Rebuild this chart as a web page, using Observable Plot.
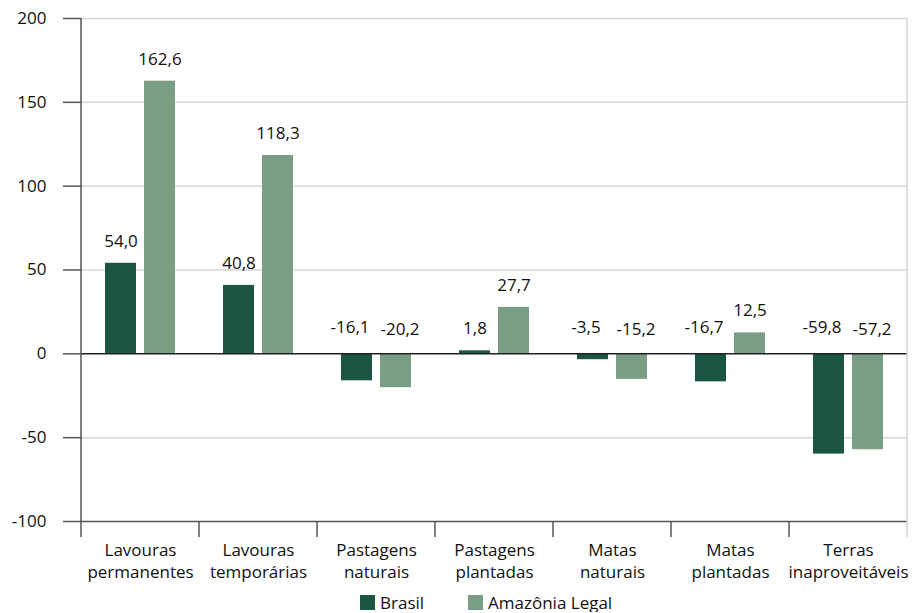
<!DOCTYPE html>
<html>
<head>
<meta charset="utf-8">
<script src="https://cdn.jsdelivr.net/npm/d3@7"></script>
<script src="https://cdn.jsdelivr.net/npm/@observablehq/plot@0.6"></script>
<style>
  body { margin: 0; background: white; font-family: "Open Sans", sans-serif; }
  #legend { display: flex; justify-content: flex-start; align-items: center; padding-left: 360px; height: 20px; font-size: 17px; color: #111; }
  .item { display: flex; align-items: center; }
  .sw { width: 15px; height: 15px; margin-right: 5px; }
</style>
</head>
<body>
<div id="chart"></div>
<div id="legend"></div>
<script>
const categories = ["Lavouras\npermanentes", "Lavouras\ntemporárias", "Pastagens\nnaturais", "Pastagens\nplantadas", "Matas\nnaturais", "Matas\nplantadas", "Terras\ninaproveitáveis"];
const series = ["Brasil", "Amazônia Legal"];
const brasil = [54.0, 40.8, -16.1, 1.8, -3.5, -16.7, -59.8];
const amazonia = [162.6, 118.3, -20.2, 27.7, -15.2, 12.5, -57.2];
const yTicks = [-100, -50, 0, 50, 100, 150, 200];
const gridTicks = [-50, 50, 100, 150, 200];
const colors = ["#1a5640", "#7a9e83"];

const data = categories.flatMap((c, i) => [
  {cat: c, s: series[0], v: brasil[i]},
  {cat: c, s: series[1], v: amazonia[i]}
]);
const fmt = v => v.toFixed(1).replace(".", ",");

const W = 916, H = 592, ML = 78, MR = 7, MT = 18, MB = H - 521;
const labelStyle = {fx: "cat", x: "s", text: d => fmt(d.v), fill: "#111", fontSize: 17};
const plot = Plot.plot({
  width: W, height: H,
  marginLeft: ML, marginRight: MR, marginTop: MT, marginBottom: MB,
  style: {fontFamily: "'Open Sans', sans-serif", fontSize: "17px", color: "#111", background: "white", overflow: "visible"},
  fx: {domain: categories, padding: 0, label: null},
  x: {domain: series, paddingInner: 0.2, paddingOuter: 0.5875, axis: null},
  y: {domain: [-100, 200], label: null},
  color: {domain: series, range: colors},
  marks: [
    Plot.ruleY(gridTicks, {stroke: "#d6d6d6", strokeWidth: 1.5}),
    Plot.axisY({ticks: yTicks, tickSize: 18, tickPadding: 17, stroke: "#555", strokeWidth: 1.5, tickFormat: d => String(d), label: null, fill: "#111"}),
    Plot.axisFx({anchor: "bottom", tickSize: 0, tickPadding: 19, lineHeight: 1.3, label: null, fill: "#111"}),
    Plot.barY(data, {fx: "cat", x: "s", y: "v", fill: "s"}),
    Plot.ruleY([0], {stroke: "#222", strokeWidth: 1.5}),
    Plot.ruleY([-100], {stroke: "#555", strokeWidth: 1.5}),
    Plot.text(data.filter(d => d.v >= 0), {...labelStyle, y: "v", dy: -22}),
    Plot.text(data.filter(d => d.v < 0 && d.s === series[0]), {...labelStyle, y: () => 0, dy: -26, dx: -7}),
    Plot.text(data.filter(d => d.v < 0 && d.s === series[1]), {...labelStyle, y: () => 0, dy: -24, dx: 4})
  ]
});
document.getElementById("chart").appendChild(plot);

// axis frame lines and category boundary ticks, positioned through Plot's scales
const fx = plot.scale("fx");
const ys = plot.scale("y");
const svg = d3.select(plot);
const yTop = ys.apply(200), yBot = ys.apply(-100);
const bounds = categories.map(c => fx.apply(c));
const xEnd = fx.apply(categories[categories.length - 1]) + fx.step;
const g = svg.append("g");
g.append("line").attr("x1", xEnd).attr("x2", xEnd).attr("y1", yTop).attr("y2", yBot + 16)
  .attr("stroke", "#d0d0d0").attr("stroke-width", 1.5);
g.append("line").attr("x1", bounds[0]).attr("x2", bounds[0]).attr("y1", yTop).attr("y2", yBot + 16)
  .attr("stroke", "#555").attr("stroke-width", 1.5);
bounds.slice(1).forEach(x => {
  g.append("line").attr("x1", x).attr("x2", x).attr("y1", yBot).attr("y2", yBot + 16)
    .attr("stroke", "#555").attr("stroke-width", 1.5);
});

// legend
const leg = d3.select("#legend");
series.forEach((s, i) => {
  const it = leg.append("div").attr("class", "item").style("margin-right", i === 0 ? "44px" : "0");
  it.append("div").attr("class", "sw").style("background", colors[i]);
  it.append("span").text(s);
});
</script>
</body>
</html>
